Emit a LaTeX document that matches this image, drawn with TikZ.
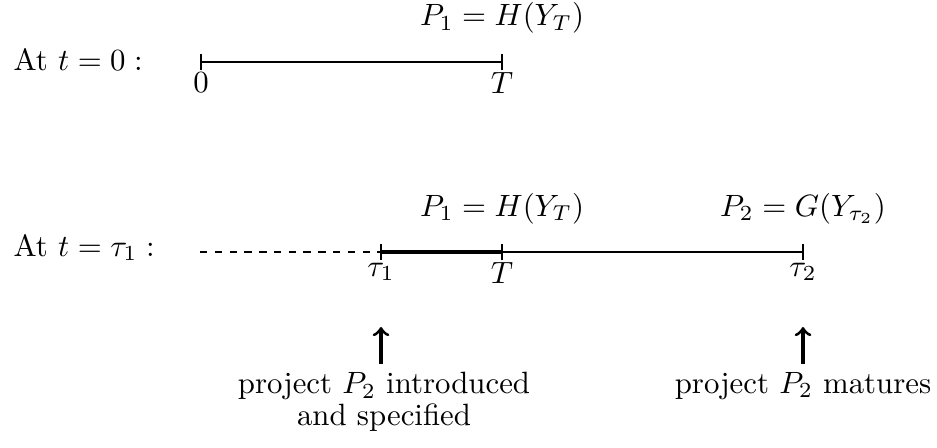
\documentclass[tikz,border=0pt]{standalone}
\usepackage{fontspec}
\begin{document}
\begin{tikzpicture}[x=0.3247pt,y=-0.3247pt,
  tl/.style={line width=0.6pt},
  thk/.style={line width=1.3pt},
  dsh/.style={line width=0.5pt,dash pattern=on 2.4pt off 2.4pt},
  tickmark/.style={line width=0.6pt},
  arr/.style={line width=1pt,->},
  lab/.style={anchor=base},
  bottomtext/.style={anchor=north,inner sep=0pt,align=center}]
\useasboundingbox (0,0) rectangle (937,447);
% top timeline
\coordinate (a0) at (201,62);
\coordinate (aT) at (502,62);
\draw[tl] (a0) -- (aT);
\draw[tickmark] (a0) ++(0,-8) -- ++(0,16);
\draw[tickmark] (aT) ++(0,-8) -- ++(0,16);
\node[below] (l0) at (a0) {$0$};
\node[below] (lT) at (aT) {$T$};
\node[lab] (p1a) at (502,26) {$P_1 = H(Y_T)$};
\node[anchor=base west,inner sep=0pt] (at0) at (13,71) {At $t=0:$};
% bottom timeline
\coordinate (d0) at (200,252);
\coordinate (b1) at (381,252);
\coordinate (bT) at (502,252);
\coordinate (b2) at (803,252);
\draw[dsh] (d0) -- (b1);
\draw[thk] (b1) -- (bT);
\draw[tl] (bT) -- (b2);
\draw[tickmark] (b1) ++(0,-8) -- ++(0,16);
\draw[tickmark] (bT) ++(0,-8) -- ++(0,16);
\draw[tickmark] (b2) ++(0,-8) -- ++(0,16);
\node[below] (lt1) at (b1) {$\tau_1$};
\node[below] (lbT) at (bT) {$T$};
\node[below] (lt2) at (b2) {$\tau_2$};
\node[lab] (p1b) at (502,216) {$P_1 = H(Y_T)$};
\node[lab] (p2b) at (803,216) {$P_2 = G(Y_{\tau_2})$};
\node[anchor=base west,inner sep=0pt] (at1) at (13,256) {At $t=\tau_1:$};
% arrows and texts
\coordinate (s1) at (381,364);
\coordinate (e1) at (381,327);
\coordinate (s2) at (803,364);
\coordinate (e2) at (803,327);
\draw[arr] (s1) -- (e1);
\draw[arr] (s2) -- (e2);
\node[bottomtext] (txt1) at (384,371.5) {project $P_2$ introduced\\[-1.7pt] and specified};
\node[bottomtext] (txt2) at (803,371.5) {project $P_2$ matures};
\end{tikzpicture}
\end{document}
